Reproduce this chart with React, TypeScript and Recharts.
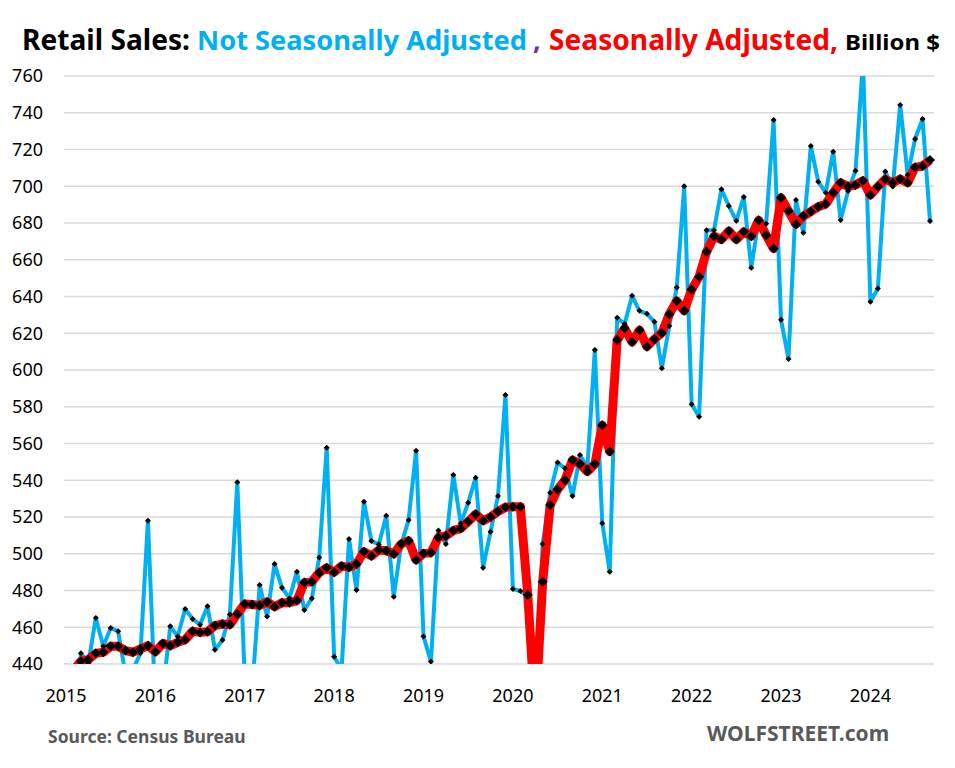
import React from 'react';
import { LineChart, Line, XAxis, YAxis, CartesianGrid } from 'recharts';

// monthly, Jan 2015 .. Sep 2024, billion $
const years = ['2015', '2016', '2017', '2018', '2019', '2020', '2021', '2022', '2023', '2024'];
const monthsInLastYear = 9;

const nsaSales = [
  384, 381, 445.8, 440.5, 465, 449.6, 459.6, 457.8, 434, 437, 446, 518,
  417, 425, 460.5, 455, 470, 464.5, 461.4, 471.4, 447.8, 453, 466.9, 538.9,
  431, 426, 483, 465.8, 494.4, 481.5, 475.7, 490.2, 469.4, 475.7, 497.9, 557.7,
  444, 437, 508, 480.3, 528.3, 507, 505, 520.7, 476.6, 505, 518.4, 556,
  455, 441.3, 512.6, 505.3, 542.9, 516.5, 527.8, 541.4, 492.4, 512, 531.4, 586.4,
  480.8, 479.7, 477, 410, 505.3, 533.2, 549.6, 546.5, 531.4, 553.7, 547, 610.9,
  516.6, 490.2, 628.5, 625, 640.4, 632.2, 630.6, 626.2, 601, 624, 644.9, 700,
  581.4, 574.5, 676.1, 676.1, 698.4, 689.2, 681.2, 694.2, 655.6, 681.6, 679.6, 736,
  627.3, 606, 692.5, 674.7, 721.9, 702.5, 696.5, 718.8, 681.6, 697.4, 708.5, 768,
  637.2, 644.4, 708, 699.8, 744.2, 706.1, 725.7, 736.6, 681.1,
];

const saSales = [
  437.5, 436.5, 441.5, 442.4, 445.8, 446.4, 449.6, 449.6, 447.3, 446.4, 448.2, 450,
  446.7, 451.2, 450, 451.8, 453.2, 457.8, 457.2, 457.6, 460.9, 461.8, 461.4, 467.2,
  472.7, 472.4, 471.9, 473.8, 471.2, 473.4, 473.4, 474.5, 484.3, 484.8, 489.7, 492.4,
  489.9, 493.3, 492.6, 494.4, 501.1, 498.8, 502, 501.7, 499.9, 505.3, 507.1, 496.6,
  500.2, 500.6, 508.9, 509.7, 512.6, 513.8, 517.5, 521.5, 518, 520, 523, 525.3,
  525.6, 525.6, 477.6, 412, 484.8, 526.5, 535, 540.1, 551, 548.8, 544.7, 548.8,
  570, 555.6, 616.3, 622.7, 615.2, 621.7, 612.7, 616.8, 620.2, 630.4, 637.6, 632.2,
  643.8, 650.7, 664.3, 672.8, 671, 675.6, 671, 675.2, 672.8, 681.5, 673.4, 666.1,
  693.8, 686.5, 679.3, 683.8, 686.2, 688.9, 690.3, 696.5, 701.9, 699.8, 700.7, 703,
  695.2, 699.8, 703.8, 701.9, 703.9, 701.9, 710.3, 711, 714.3,
];

const yTicks = [440, 460, 480, 500, 520, 540, 560, 580, 600, 620, 640, 660, 680, 700, 720, 740, 760];

const months: string[] = [];
years.forEach((y, yi) => {
  const n = yi === years.length - 1 ? monthsInLastYear : 12;
  for (let m = 1; m <= n; m++) months.push(`${y}-${String(m).padStart(2, '0')}`);
});
const xTicks = years.map((y) => `${y}-01`);

const data = months.map((month, i) => ({ month, nsa: nsaSales[i], sa: saSales[i] }));

const diamond = (r: number) => (props: any) => {
  const { cx, cy, index } = props;
  if (cx == null || cy == null) return <g key={index} />;
  return (
    <path
      key={index}
      d={`M${cx},${cy - r}L${cx + r},${cy}L${cx},${cy + r}L${cx - r},${cy}Z`}
      fill="#000"
    />
  );
};

const font = '"Noto Sans", "Open Sans", sans-serif';

export default function App() {
  return (
    <div style={{ position: 'absolute', left: 0, top: 0, width: 955, height: 768, background: '#fff' }}>
      <svg width={955} height={70} style={{ position: 'absolute', left: 0, top: 0 }}>
        <g fontFamily={font} fontWeight={700}>
          <text x={22} y={50} fontSize={28} fill="#000" textLength={168} lengthAdjust="spacingAndGlyphs">Retail Sales:</text>
          <text x={197} y={50} fontSize={27} fill="#00B0F0" textLength={330} lengthAdjust="spacingAndGlyphs">Not Seasonally Adjusted</text>
          <text x={533} y={50} fontSize={27} fill="#7030A0">,</text>
          <text x={549} y={50} fontSize={28} fill="#FF0000" textLength={289} lengthAdjust="spacingAndGlyphs">Seasonally Adjusted,</text>
          <text x={845} y={50} fontSize={22} fill="#000" textLength={95} lengthAdjust="spacingAndGlyphs">Billion $</text>
        </g>
      </svg>

      <div style={{ position: 'absolute', left: 0, top: 0 }}>
        <LineChart width={955} height={768} data={data} margin={{ top: 76, right: 21, bottom: 74, left: 0 }}>
          <CartesianGrid vertical={false} stroke="#D9D9D9" strokeWidth={1.5} />
          <XAxis
            dataKey="month"
            scale="point"
            ticks={xTicks}
            interval={0}
            tickFormatter={(v: string) => v.slice(0, 4)}
            padding={{ left: 2, right: 4 }}
            axisLine={false}
            tickLine={false}
            tickSize={0}
            tickMargin={25}
            height={30}
            tick={{ fill: '#000', fontSize: 18, fontFamily: font }}
          />
          <YAxis
            domain={[440, 760]}
            ticks={yTicks}
            allowDataOverflow
            axisLine={false}
            tickLine={false}
            tickSize={0}
            tickMargin={21}
            width={64}
            tick={{ fill: '#000', fontSize: 18, fontFamily: font }}
          />
          <Line
            type="linear"
            dataKey="nsa"
            stroke="#00B0F0"
            strokeWidth={4}
            strokeLinejoin="round"
            dot={diamond(3)}
            activeDot={false}
            isAnimationActive={false}
          />
          <Line
            type="linear"
            dataKey="sa"
            stroke="#FF0000"
            strokeWidth={9}
            strokeLinejoin="round"
            dot={diamond(5)}
            activeDot={false}
            isAnimationActive={false}
          />
        </LineChart>
      </div>

      <div style={{ position: 'absolute', left: 48, top: 724, fontFamily: font, fontWeight: 700, fontSize: 17.5, color: '#595959' }}>
        Source: Census Bureau
      </div>
      <div style={{ position: 'absolute', left: 707, top: 719, fontFamily: font, fontWeight: 700, fontSize: 21, color: '#595959' }}>
        WOLFSTREET.com
      </div>
    </div>
  );
}
